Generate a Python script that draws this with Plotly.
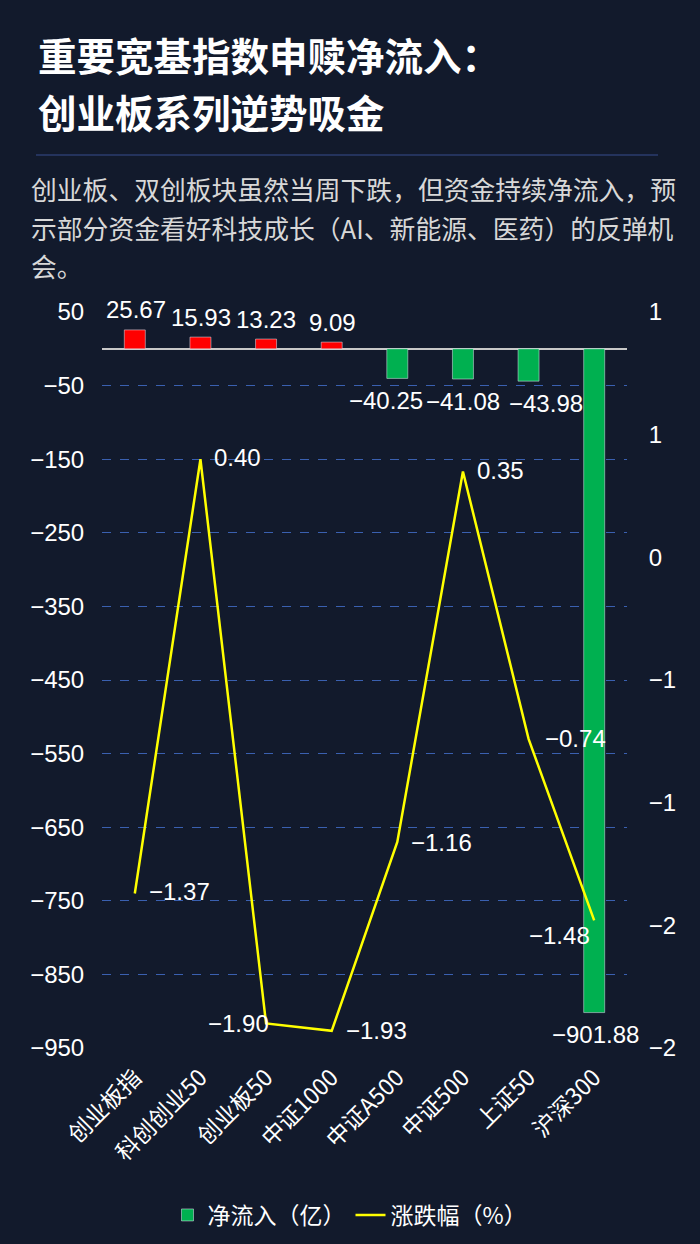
import plotly.graph_objects as go

# data
categories = ['创业板指', '科创创业50', '创业板50', '中证1000', '中证A500', '中证500', '上证50', '沪深300']
net_inflow = [25.67, 15.93, 13.23, 9.09, -40.25, -41.08, -43.98, -901.88]
pct_change = [-1.37, 0.40, -1.90, -1.93, -1.16, 0.35, -0.74, -1.48]

left_ticks = [50, -50, -150, -250, -350, -450, -550, -650, -750, -850, -950]
right_ticks = [1, 0.5, 0, -0.5, -1, -1.5, -2]
right_tick_text = ['1', '1', '0', '−1', '−1', '−2', '−2']

title_lines = ['重要宽基指数申赎净流入：', '创业板系列逆势吸金']
subtitle_lines = ['创业板、双创板块虽然当周下跌，但资金持续净流入，预',
                  '示部分资金看好科技成长（AI、新能源、医药）的反弹机',
                  '会。']

bgColor = '#121a2c'
redColor = '#ff0000'
greenColor = '#00b050'
lineColor = '#ffff00'
gridColor = '#3a60b0'
cjk = 'Noto Sans CJK SC'
num = 'Liberation Sans, Arial, sans-serif'

W, H = 700, 1244

# plot area in pixels
px_left, px_right, px_top, px_bottom = 102, 627, 312, 1048


def fx(px):
    return px / W


def fy(py):
    return (H - py) / H


def fmt(v):
    return f'{v:.2f}'.replace('-', '−')


pos_vals = [v if v > 0 else None for v in net_inflow]
neg_vals = [v if v <= 0 else None for v in net_inflow]

fig = go.Figure()
fig.add_trace(go.Bar(x=categories, y=pos_vals, marker_color=redColor, width=0.32,
                     name='净流入（亿）', showlegend=False))
fig.add_trace(go.Bar(x=categories, y=neg_vals, marker_color=greenColor, width=0.32,
                     name='净流入（亿）'))
fig.add_trace(go.Scatter(x=categories, y=pct_change, yaxis='y2', mode='lines',
                         name='涨跌幅（%）', line=dict(color=lineColor, width=2.5), cliponaxis=False))

annotations = []
title_y = [54, 111]
for line, yy in zip(title_lines, title_y):
    annotations.append(dict(text=f'<b>{line}</b>', x=fx(36), y=fy(yy), xref='paper', yref='paper',
                            xanchor='left', yanchor='middle', showarrow=False,
                            font=dict(family=cjk, size=38.5, color='white')))
sub_y = [189, 228, 266]
for line, yy in zip(subtitle_lines, sub_y):
    annotations.append(dict(text=line, x=fx(29), y=fy(yy), xref='paper', yref='paper',
                            xanchor='left', yanchor='middle', showarrow=False,
                            font=dict(family=cjk, size=25.8, color='#d8d8d8')))

# bar value labels, nudged sideways where they crowd (like the reference)
bar_xshift = [1, 1, 0, 1, -11, 0, 17, 1]
for cat, v, xs in zip(categories, net_inflow, bar_xshift):
    annotations.append(dict(text=fmt(v), x=cat, y=v, xref='x', yref='y', xanchor='center',
                            yanchor='middle', xshift=xs, yshift=20 if v > 0 else -22,
                            showarrow=False, font=dict(family=num, size=24, color='white')))

# labels on the line
label_anchor = ['left', 'left', 'right', 'left', 'left', 'left', 'left', 'right']
label_xshift = [12, 12, 5, 12, 12, 12, 14, -2]
label_yshift = [2, 2, 0, 0, -1, 1, 0, -15]
for cat, v, xa, xs, ys in zip(categories, pct_change, label_anchor, label_xshift, label_yshift):
    annotations.append(dict(text=fmt(v), x=cat, y=v, xref='x', yref='y2', xanchor=xa,
                            yanchor='middle', xshift=xs, yshift=ys, showarrow=False,
                            font=dict(family=num, size=24, color='white')))

fig.update_layout(
    width=W, height=H,
    margin=dict(l=0, r=0, t=0, b=0),
    paper_bgcolor=bgColor, plot_bgcolor=bgColor,
    barmode='relative', bargap=0.68,
    font=dict(family=num, color='white'),
    xaxis=dict(domain=[fx(px_left), fx(px_right)], range=[-0.5, len(categories) - 0.5],
               tickangle=-45, showgrid=False, showline=False,
               zeroline=False, ticks='outside', ticklen=6, tickcolor='rgba(0,0,0,0)',
               tickfont=dict(family=cjk, size=23, color='white'), automargin=False),
    yaxis=dict(domain=[fy(px_bottom), fy(px_top)], range=[-950, 50], tickvals=left_ticks,
               showgrid=True, gridcolor=gridColor, griddash='dash', gridwidth=1,
               zeroline=True, zerolinecolor='#c8c8c8', zerolinewidth=1.5,
               ticks='outside', ticklen=12, tickcolor='rgba(0,0,0,0)',
               tickfont=dict(family=num, size=24, color='white'), automargin=False),
    yaxis2=dict(overlaying='y', side='right', range=[-2, 1], tickvals=right_ticks,
                ticktext=right_tick_text, showgrid=False, zeroline=False,
                ticks='outside', ticklen=16, tickcolor='rgba(0,0,0,0)',
                tickfont=dict(family=num, size=24, color='white'), automargin=False),
    legend=dict(orientation='h', x=0.5, xanchor='center', y=fy(1215), yanchor='middle',
                font=dict(family=cjk, size=23, color='white'), bgcolor='rgba(0,0,0,0)'),
    annotations=annotations,
    shapes=[dict(type='line', xref='paper', yref='paper', x0=fx(36), x1=fx(658),
                 y0=fy(155), y1=fy(155), line=dict(color='#2b3d6e', width=1.5))],
)

fig.write_html('out.html', config={'displayModeBar': False},
               post_script="document.body.style.margin='0';document.body.style.background='%s';" % bgColor)
